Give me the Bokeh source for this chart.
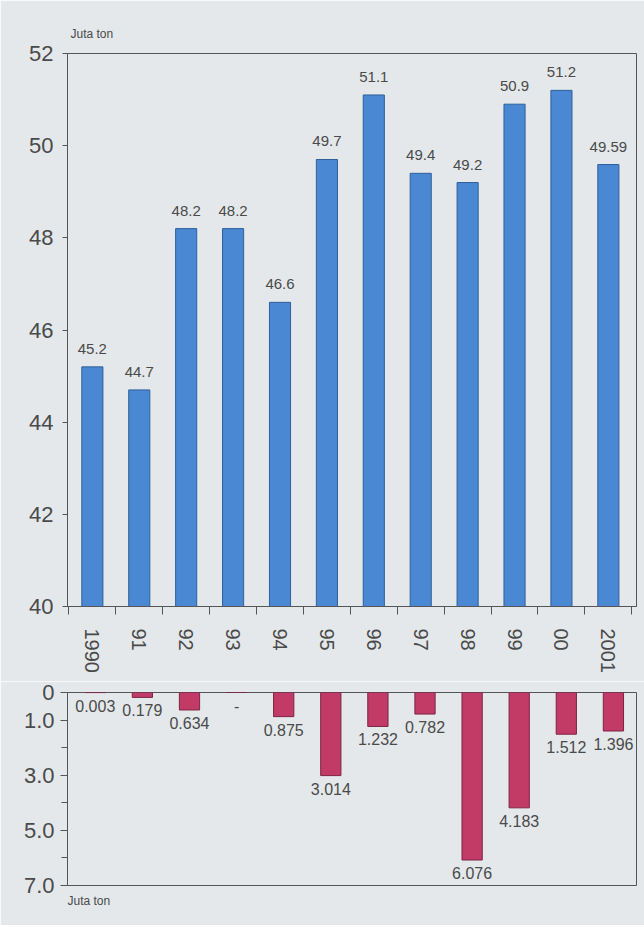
from bokeh.plotting import figure
from bokeh.models import FixedTicker, Range1d, ColumnDataSource, Title
from bokeh.layouts import column
from bokeh.core.properties import value
from bokeh.embed import file_html
from bokeh.resources import INLINE

# ---- data ----
years = ["1990", "91", "92", "93", "94", "95", "96", "97", "98", "99", "00", "2001"]
production = [45.2, 44.7, 48.2, 48.2, 46.6, 49.7, 51.1, 49.4, 49.2, 50.9, 51.2, 49.59]
production_labels = ["45.2", "44.7", "48.2", "48.2", "46.6", "49.7", "51.1", "49.4", "49.2", "50.9", "51.2", "49.59"]
imports = [0.003, 0.179, 0.634, 0.0, 0.875, 3.014, 1.232, 0.782, 6.076, 4.183, 1.512, 1.396]
import_labels = ["0.003", "0.179", "0.634", "-", "0.875", "3.014", "1.232", "0.782", "6.076", "4.183", "1.512", "1.396"]
top_ticks = [40, 42, 44, 46, 48, 50, 52]
bottom_ticks = [0, 1, 3, 5, 7]
bottom_tick_labels = ["0", "1.0", "3.0", "5.0", "7.0"]
bottom_minor = [2, 4, 6]
unit = "Juta ton"

FONT = "Liberation Sans"
BG = "#e4e8ea"
BLUE = "#4a88d4"
BLUE_EDGE = "#2f5f9a"
RED = "#c23b67"
RED_EDGE = "#7d2443"
AXIS = "#555555"
TXT = "#4a4a4a"

xs = list(range(len(years)))
src = ColumnDataSource(dict(x=xs, prod=production, plab=production_labels,
                            imp=imports, ilab=import_labels))

# ---- top chart ----
p1 = figure(width=644, height=681, x_range=Range1d(-0.53, 11.6), y_range=Range1d(40, 52),
            output_backend="svg", toolbar_location=None,
            min_border_left=67, min_border_right=8, min_border_top=53, min_border_bottom=75,
            background_fill_color=BG, border_fill_color=BG,
            outline_line_color=AXIS, outline_line_width=1)
p1.xgrid.visible = False
p1.ygrid.visible = False
p1.vbar(x="x", top="prod", bottom=40, width=0.45, source=src,
        fill_color=BLUE, line_color=BLUE_EDGE, line_width=1)
p1.text(x="x", y="prod", text="plab", source=src, text_align="center", text_baseline="bottom",
        y_offset=-13, text_font=value(FONT), text_font_size="15px", text_color=TXT)

xa = p1.xaxis[0]
xa.ticker = FixedTicker(ticks=xs, minor_ticks=[i - 0.5 for i in range(len(years) + 1)])
xa.major_label_overrides = {i: years[i] for i in xs}
xa.major_tick_line_color = None
xa.major_tick_out = 0
xa.major_tick_in = 0
xa.minor_tick_out = 8
xa.minor_tick_in = 0
xa.minor_tick_line_color = AXIS
xa.axis_line_color = AXIS
xa.major_label_orientation = "vertical"
xa.major_label_standoff = 14
xa.major_label_text_font = FONT
xa.major_label_text_font_size = "20px"
xa.major_label_text_color = TXT

ya = p1.yaxis[0]
ya.ticker = FixedTicker(ticks=top_ticks, minor_ticks=[])
ya.major_tick_out = 5
ya.major_tick_in = 0
ya.major_tick_line_color = AXIS
ya.axis_line_color = AXIS
ya.major_label_standoff = 9
ya.major_label_text_font = FONT
ya.major_label_text_font_size = "22px"
ya.major_label_text_color = TXT

p1.add_layout(Title(text=unit, align="left", offset=3, standoff=26, text_font=FONT,
                    text_font_size="12px", text_font_style="normal", text_color=TXT), "above")

# ---- bottom chart ----
p2 = figure(width=644, height=244, x_range=Range1d(-0.59, 11.49), y_range=Range1d(7, 0),
            output_backend="svg", toolbar_location=None,
            min_border_left=62, min_border_right=6, min_border_top=11, min_border_bottom=40,
            background_fill_color=BG, border_fill_color=BG,
            outline_line_color=AXIS, outline_line_width=1)
p2.xgrid.visible = False
p2.ygrid.visible = False
p2.xaxis.visible = False
p2.vbar(x="x", top=0, bottom="imp", width=0.43, source=src,
        fill_color=RED, line_color=RED_EDGE, line_width=1)
p2.text(x="x", y="imp", text="ilab", source=src, text_align="center", text_baseline="top",
        y_offset=7, text_font=value(FONT), text_font_size="16px", text_color=TXT)

ya2 = p2.yaxis[0]
ya2.ticker = FixedTicker(ticks=bottom_ticks, minor_ticks=bottom_minor)
ya2.major_label_overrides = {t: l for t, l in zip(bottom_ticks, bottom_tick_labels)}
ya2.major_tick_out = 7
ya2.major_tick_in = 0
ya2.minor_tick_out = 6
ya2.minor_tick_in = 0
ya2.major_tick_line_color = AXIS
ya2.minor_tick_line_color = AXIS
ya2.axis_line_color = AXIS
ya2.major_label_standoff = 6
ya2.major_label_text_font = FONT
ya2.major_label_text_font_size = "22px"
ya2.major_label_text_color = TXT

p2.add_layout(Title(text=unit, align="left", offset=0, standoff=12, text_font=FONT,
                    text_font_size="12px", text_font_style="normal", text_color=TXT), "below")

layout = column(p1, p2, spacing=0)
open("out.html", "w").write(file_html(layout, INLINE))
